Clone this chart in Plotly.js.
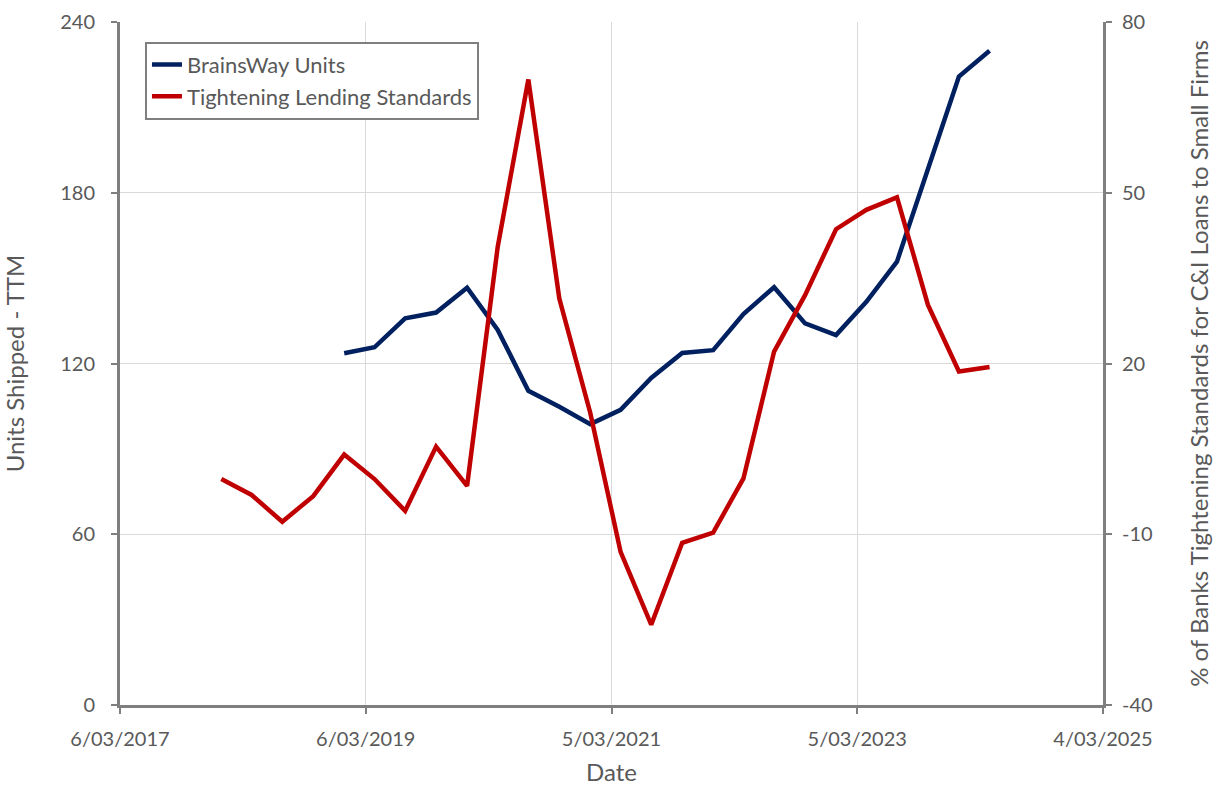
<!DOCTYPE html>
<html>
<head>
<meta charset="utf-8">
<script src="https://cdn.plot.ly/plotly-3.0.1.min.js"></script>
<style>
  html, body { margin: 0; padding: 0; background: #ffffff; }
  #chart { width: 1221px; height: 797px; }
</style>
</head>
<body>
<div id="chart"></div>
<script>
// Quarterly dates
const redDates = [
  '2018-01-01','2018-04-01','2018-07-01','2018-10-01',
  '2019-01-01','2019-04-01','2019-07-01','2019-10-01',
  '2020-01-01','2020-04-01','2020-07-01','2020-10-01',
  '2021-01-01','2021-04-01','2021-07-01','2021-10-01',
  '2022-01-01','2022-04-01','2022-07-01','2022-10-01',
  '2023-01-01','2023-04-01','2023-07-01','2023-10-01',
  '2024-01-01','2024-04-01'
];
// % of banks tightening standards for C&I loans to small firms (right axis)
const tighteningValues = [
  -0.3, -3.1, -7.8, -3.3,
  4.0, -0.3, -5.9, 5.4,
  -1.5, 40.5, 69.9, 31.4,
  11.3, -13.1, -25.9, -11.5,
  -9.7, -0.2, 22.1, 32.0,
  43.6, 47.0, 49.2, 30.3,
  18.6, 19.4
];
const blueDates = [
  '2019-01-01','2019-04-01','2019-07-01','2019-10-01',
  '2020-01-01','2020-04-01','2020-07-01','2020-10-01',
  '2021-01-01','2021-04-01','2021-07-01','2021-10-01',
  '2022-01-01','2022-04-01','2022-07-01','2022-10-01',
  '2023-01-01','2023-04-01','2023-07-01','2023-10-01',
  '2024-01-01','2024-04-01'
];
// BrainsWay units shipped, trailing twelve months (left axis)
const brainswayUnits = [
  123.6, 125.7, 135.9, 137.9,
  146.6, 131.8, 110.4, 104.8,
  98.7, 103.7, 114.9, 123.7,
  124.7, 137.4, 146.8, 134.1,
  130.0, 141.7, 155.8, 188.6,
  220.8, 229.9
];
const xTickVals = ['2017-03-06','2019-03-06','2021-03-05','2023-03-05','2025-03-04'];
const xTickText = ['6/03/2017','6/03/2019','5/03/2021','5/03/2023','4/03/2025'];
const yLeftTicks = [0, 60, 120, 180, 240];
const yRightTicks = [-40, -10, 20, 50, 80];
const yRightTickText = ['-40', '-10', '20', '50', '80'];

const fontFam = 'Lato, "Open Sans", sans-serif';
const grey = '#595959';
const axisGrey = '#7f7f7f';

const traces = [
  {
    x: blueDates, y: brainswayUnits, type: 'scatter', mode: 'lines',
    name: 'BrainsWay Units',
    line: { color: '#002060', width: 4.5 },
    yaxis: 'y'
  },
  {
    x: redDates, y: tighteningValues, type: 'scatter', mode: 'lines',
    name: 'Tightening Lending Standards',
    line: { color: '#C00000', width: 4.5 },
    yaxis: 'y2'
  }
];

const layout = {
  width: 1221, height: 797,
  margin: { l: 120, r: 118, t: 22, b: 92 },
  paper_bgcolor: '#ffffff', plot_bgcolor: '#ffffff',
  font: { family: fontFam, color: grey, size: 20 },
  showlegend: true,
  legend: {
    x: 0.0254, y: 0.971, xanchor: 'left', yanchor: 'top',
    bgcolor: '#ffffff', bordercolor: axisGrey, borderwidth: 2,
    font: { family: fontFam, size: 22, color: grey },
    itemwidth: 30, tracegroupgap: 0
  },
  xaxis: {
    type: 'date',
    range: ['2017-03-06', '2025-03-04'],
    tickvals: xTickVals, ticktext: xTickText,
    tickfont: { size: 20, color: grey },
    showgrid: true, gridcolor: '#d9d9d9', gridwidth: 1,
    showline: true, linecolor: axisGrey, linewidth: 3,
    ticks: 'outside', ticklen: 6, tickcolor: axisGrey, tickwidth: 2,
    ticklabelstandoff: 8,
    zeroline: false,
    title: { text: 'Date', font: { size: 24, color: grey }, standoff: 16 }
  },
  yaxis: {
    range: [0, 240], tickvals: yLeftTicks,
    tickfont: { size: 20, color: grey },
    showgrid: true, gridcolor: '#d9d9d9', gridwidth: 1,
    showline: true, linecolor: axisGrey, linewidth: 3,
    ticks: 'outside', ticklen: 6, tickcolor: axisGrey, tickwidth: 2,
    ticklabelstandoff: 12,
    zeroline: false,
    title: { text: 'Units Shipped - TTM', font: { size: 24, color: grey }, standoff: 30 }
  },
  yaxis2: {
    overlaying: 'y', side: 'right',
    range: [-40, 80], tickvals: yRightTicks, ticktext: yRightTickText,
    tickfont: { size: 20, color: grey },
    showgrid: false,
    showline: true, linecolor: axisGrey, linewidth: 3,
    ticks: 'outside', ticklen: 6, tickcolor: axisGrey, tickwidth: 2,
    ticklabelstandoff: 6,
    zeroline: false,
    title: { text: '% of Banks Tightening Standards for C&I Loans to Small Firms', font: { size: 24, color: grey }, standoff: 40 }
  }
};

Plotly.newPlot('chart', traces, layout, { displayModeBar: false, responsive: false });
</script>
</body>
</html>
